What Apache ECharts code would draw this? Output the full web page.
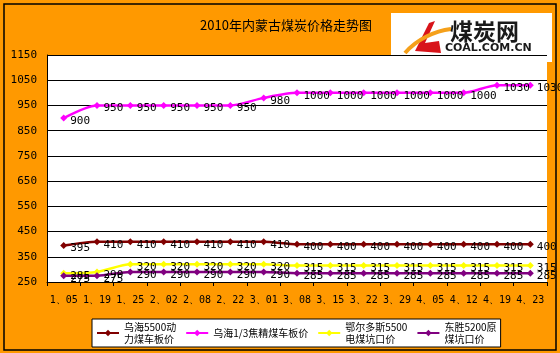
<!DOCTYPE html>
<html>
<head>
<meta charset="utf-8">
<script src="https://cdn.jsdelivr.net/npm/echarts@6/dist/echarts.min.js"></script>
<style>
  html, body { margin: 0; padding: 0; }
  #chart { width: 560px; height: 353px; }
</style>
</head>
<body>
<div id="chart"></div>
<script>
// 日期
var dates = ['1、05', '1、19', '1、25', '2、02', '2、08', '2、22', '3、01', '3、08', '3、15', '3、22', '3、29', '4、05', '4、12', '4、19', '4、23'];

// 各煤种价格
var wuhaiPower = [395, 410, 410, 410, 410, 410, 410, 400, 400, 400, 400, 400, 400, 400, 400];
var wuhaiCoking = [900, 950, 950, 950, 950, 950, 980, 1000, 1000, 1000, 1000, 1000, 1000, 1030, 1030];
var ordosPower = [285, 290, 320, 320, 320, 320, 320, 315, 315, 315, 315, 315, 315, 315, 315];
var dongsheng = [275, 275, 290, 290, 290, 290, 290, 285, 285, 285, 285, 285, 285, 285, 285];

var seriesNames = ['乌海5500动\n力煤车板价', '乌海1/3焦精煤车板价', '鄂尔多斯5500\n电煤坑口价', '东胜5200原\n煤坑口价'];
var yTicks = [250, 1150, 100];

function lineSeries(name, data, color) {
    return {
        name: name,
        type: 'line',
        data: data,
        smooth: 0.25,
        symbol: 'diamond',
        symbolSize: 7,
        lineStyle: { color: color, width: 2.5 },
        itemStyle: { color: color },
        label: {
            show: true,
            position: 'right',
            offset: [-2, 3],
            color: '#000',
            fontSize: 11,
            fontFamily: 'DejaVu Sans Mono'
        },
        animation: false
    };
}

var chart = echarts.init(document.getElementById('chart'));
var option = {
    backgroundColor: '#FF9900',
    title: {
        text: '2010年内蒙古煤炭价格走势图',
        left: 281,
        top: 14,
        textAlign: 'center',
        textStyle: {
            color: '#000',
            fontSize: 13,
            fontWeight: 'normal',
            fontFamily: 'Noto Sans CJK SC'
        }
    },
    grid: {
        show: true,
        backgroundColor: '#fff',
        borderWidth: 0,
        left: 47,
        right: 13,
        top: 55,
        bottom: 71
    },
    legend: {
        left: 92,
        top: 319,
        padding: [2, 4, 2, 4],
        itemGap: 9,
        itemWidth: 22,
        itemHeight: 8,
        backgroundColor: '#fff',
        borderColor: '#000',
        borderWidth: 1,
        borderRadius: 0,
        textStyle: {
            color: '#000',
            fontSize: 10,
            lineHeight: 12,
            fontFamily: 'Noto Sans CJK SC'
        },
        data: seriesNames
    },
    xAxis: {
        type: 'category',
        data: dates,
        boundaryGap: true,
        axisLine: { lineStyle: { color: '#000', width: 1 } },
        axisTick: { show: true, length: 4, lineStyle: { color: '#000' } },
        axisLabel: {
            color: '#000',
            fontSize: 10,
            margin: 13,
            interval: 0,
            fontFamily: 'DejaVu Sans Mono'
        }
    },
    yAxis: {
        type: 'value',
        min: yTicks[0],
        max: yTicks[1],
        interval: yTicks[2],
        axisLine: { show: true, lineStyle: { color: '#000', width: 1 } },
        axisTick: { show: false },
        splitLine: { lineStyle: { color: '#000', width: 1 } },
        axisLabel: {
            color: '#000',
            fontSize: 11,
            margin: 10,
            formatter: function (v) { return String(v); },
            fontFamily: 'DejaVu Sans Mono'
        }
    },
    graphic: [
        // 外框
        {
            type: 'rect',
            shape: { x: 4, y: 4, width: 552, height: 346 },
            style: { fill: 'none', stroke: '#000', lineWidth: 1.5 },
            z: 100
        },
        // logo
        {
            type: 'group',
            left: 391,
            top: 13,
            z: 60,
            children: [
                {
                    type: 'rect',
                    shape: { x: 0, y: 0, width: 161, height: 49 },
                    style: { fill: '#fff' }
                },
                {
                    type: 'polygon',
                    shape: { points: [[24, 38], [38, 10], [44, 8], [34, 30], [48, 28], [50, 40]] },
                    style: { fill: '#D8141A' }
                },
                {
                    type: 'bezierCurve',
                    shape: { x1: 14, y1: 40, x2: 60, y2: 16, cpx1: 26, cpy1: 26, cpx2: 44, cpy2: 18 },
                    style: { stroke: '#F5A01A', lineWidth: 4, fill: 'none' }
                },
                {
                    type: 'text',
                    style: {
                        x: 59, y: 7,
                        text: '煤炭网',
                        fill: '#1a1a1a',
                        font: 'bold 23px "Noto Sans CJK SC"'
                    }
                },
                {
                    type: 'text',
                    style: {
                        x: 54, y: 30,
                        text: 'COAL.COM.CN',
                        fill: '#1a1a1a',
                        font: 'bold 11px "DejaVu Sans"'
                    }
                }
            ]
        }
    ],
    series: [
        lineSeries(seriesNames[0], wuhaiPower, '#800000'),
        lineSeries(seriesNames[1], wuhaiCoking, '#FF00FF'),
        lineSeries(seriesNames[2], ordosPower, '#FFFF00'),
        lineSeries(seriesNames[3], dongsheng, '#800080')
    ]
};
chart.setOption(option);
</script>
</body>
</html>
